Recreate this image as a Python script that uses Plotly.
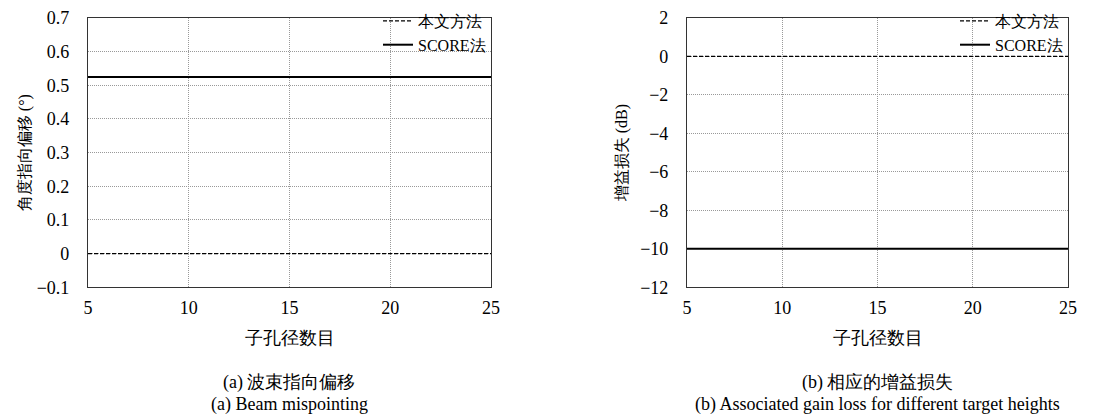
import plotly.graph_objects as go

# ---- data ----
subaperture_counts = [5, 6, 7, 8, 9, 10, 11, 12, 13, 14, 15, 16, 17, 18, 19, 20, 21, 22, 23, 24, 25]
pointing_proposed = [0.0] * 21
pointing_score = [0.525] * 21
gain_proposed = [0.0] * 21
gain_score = [-10.0] * 21

x_ticks = [5, 10, 15, 20, 25]
y1_ticks = [-0.1, 0, 0.1, 0.2, 0.3, 0.4, 0.5, 0.6, 0.7]
y1_ticklabels = ["−0.1", "0", "0.1", "0.2", "0.3", "0.4", "0.5", "0.6", "0.7"]
y2_ticks = [-12, -10, -8, -6, -4, -2, 0, 2]

name_proposed = "本文方法"
name_score = "SCORE法"

FONT = "Liberation Serif"
OFF = 8  # default page body margin
W, H = 1104 - OFF, 418 - OFF

def px_x(p):
    return (p - OFF) / W

def px_y(p):
    return 1 - (p - OFF) / H

fig = go.Figure()

dash_style = dict(color="black", width=1.3, dash="4px,2px")
solid_style = dict(color="black", width=2)

fig.add_trace(go.Scatter(x=subaperture_counts, y=pointing_proposed, mode="lines",
                         name=name_proposed, line=dash_style,
                         xaxis="x", yaxis="y", legend="legend"))
fig.add_trace(go.Scatter(x=subaperture_counts, y=pointing_score, mode="lines",
                         name=name_score, line=solid_style,
                         xaxis="x", yaxis="y", legend="legend"))
fig.add_trace(go.Scatter(x=subaperture_counts, y=gain_proposed, mode="lines",
                         name=name_proposed, line=dash_style,
                         xaxis="x2", yaxis="y2", legend="legend2"))
fig.add_trace(go.Scatter(x=subaperture_counts, y=gain_score, mode="lines",
                         name=name_score, line=solid_style,
                         xaxis="x2", yaxis="y2", legend="legend2"))

axis_common = dict(showline=True, linecolor="#333", linewidth=1.2, mirror=True,
                   showgrid=True, gridcolor="#999", griddash="1px,1px", gridwidth=0.8,
                   zeroline=False, ticks="", automargin=False, ticklabeloverflow="allow",
                   tickfont=dict(family=FONT, size=18, color="black"))

xd1 = [px_x(88), px_x(491)]
xd2 = [px_x(687), px_x(1068)]
yd = [px_y(287.3), px_y(18)]
legend_top = 1 + 4 / H

fig.update_layout(
    width=W, height=H,
    margin=dict(l=0, r=0, t=0, b=0, autoexpand=False),
    paper_bgcolor="white", plot_bgcolor="white",
    font=dict(family=FONT, size=18, color="black"),
    xaxis=dict(domain=xd1, range=[5, 25], tickvals=x_ticks, anchor="y", ticklabelstandoff=4,
               title=dict(text="子孔径数目", font=dict(family=FONT, size=18), standoff=14),
               **axis_common),
    yaxis=dict(domain=yd, range=[-0.1, 0.7], tickvals=y1_ticks, ticktext=y1_ticklabels, anchor="x",
               ticklabelstandoff=14,
               title=dict(text="角度指向偏移 (°)", font=dict(family=FONT, size=16), standoff=2),
               **axis_common),
    xaxis2=dict(domain=xd2, range=[5, 25], tickvals=x_ticks, anchor="y2", ticklabelstandoff=4,
                title=dict(text="子孔径数目", font=dict(family=FONT, size=18), standoff=14),
                **axis_common),
    yaxis2=dict(domain=yd, range=[-12, 2], tickvals=y2_ticks, anchor="x2", ticklabelstandoff=14,
                title=dict(text="增益损失 (dB)", font=dict(family=FONT, size=16), standoff=8),
                **axis_common),
    legend=dict(x=xd1[1], y=legend_top, xanchor="right", yanchor="top",
                bgcolor="rgba(255,255,255,0)", font=dict(family=FONT, size=16),
                itemwidth=30, tracegroupgap=0),
    legend2=dict(x=xd2[1], y=legend_top, xanchor="right", yanchor="top",
                 bgcolor="rgba(255,255,255,0)", font=dict(family=FONT, size=16),
                 itemwidth=30, tracegroupgap=0),
)

cap_a_x = (xd1[0] + xd1[1]) / 2
cap_b_x = (xd2[0] + xd2[1]) / 2
for text, xx, yy in [("(a) 波束指向偏移", cap_a_x, 382), ("(a) Beam mispointing", cap_a_x, 404),
                     ("(b) 相应的增益损失", cap_b_x, 382),
                     ("(b) Associated gain loss for different target heights", cap_b_x, 404)]:
    fig.add_annotation(text=text, x=xx, y=px_y(yy), xref="paper", yref="paper",
                       showarrow=False, xanchor="center", yanchor="middle",
                       font=dict(family=FONT, size=18, color="black"))

fig.write_html("out.html")
